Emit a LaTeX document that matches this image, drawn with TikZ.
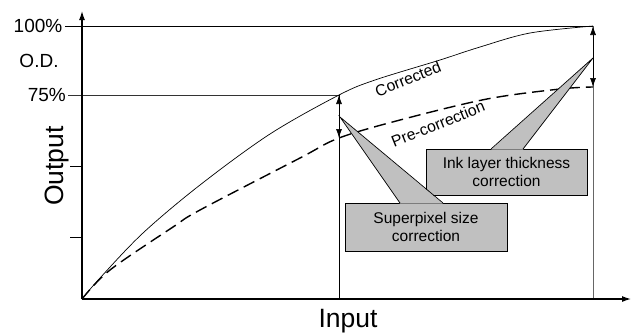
\documentclass[tikz,border=0pt]{standalone}
\usepackage{fontspec}
\setmainfont{Liberation Sans}
\usetikzlibrary{arrows.meta}
\definecolor{calloutgray}{HTML}{C0C0C0}
\tikzset{
  axis/.style={line width=1.2pt},
  guide/.style={line width=0.7pt},
  tip/.style={-{Latex[length=9pt,width=6pt]}},
  dbl/.style={line width=0.7pt,{Latex[length=9pt,width=6pt]}-{Latex[length=9pt,width=6pt]}},
  callout/.style={draw,line width=0.7pt,fill=calloutgray,align=center,font=\fontsize{15.5}{18}\selectfont,inner sep=0pt},
  lbl/.style={font=\fontsize{19}{22}\selectfont,inner sep=0pt},
  big/.style={font=\fontsize{26.5}{30}\selectfont,inner sep=0pt},
  curvelbl/.style={font=\fontsize{15.8}{18}\selectfont,rotate=22,inner sep=0pt}
}
\begin{document}
\begin{tikzpicture}[x=1pt,y=-1pt]
\useasboundingbox (0,0) rectangle (631,335);
% coordinates
\coordinate (O) at (82,299);
\coordinate (Ytop) at (82,11);
\coordinate (Xend) at (631,299);
\coordinate (T100) at (65,26);
\coordinate (E100) at (593,26);
\coordinate (T75) at (68,95);
\coordinate (C75) at (339,95);
\coordinate (P75) at (339,138);
\coordinate (X1) at (339,299);
\coordinate (X2) at (593,299);
\coordinate (PEnd) at (593,87);
\coordinate (T3) at (70,166);
\coordinate (T4) at (70,237);
% guide lines
\draw[guide] (T100) -- (E100);
\draw[guide,black!80] (T75) -- (C75);
\draw[guide] (T3) -- (82,166);
\draw[guide] (T4) -- (82,237);
\draw[guide] (C75) -- (X1);
\draw[guide,black!60] (E100) -- (X2);
% axes
\draw[axis,tip] (O) -- (Ytop);
\draw[axis,tip] (O) -- (Xend);
% curves
\draw[line width=0.7pt] plot[smooth,tension=0.55] coordinates {(82,299) (100,278) (143,233) (200,185) (270,134) (339,95) (375,80) (440,60) (480,47) (530,33) (593,26)};
\draw[line width=1.4pt,dash pattern=on 12pt off 6pt] plot[smooth,tension=0.55] coordinates {(82,299) (110,270) (173,227) (200,210) (300,158) (339,138) (400,120) (487,99) (560,89) (593,87)};
% double arrows
\draw[dbl] (P75) -- (C75);
\draw[dbl] (PEnd) -- (E100);
% labels
\node[lbl,anchor=east] (l100) at (62.5,26) {100\%};
\node[lbl] (lod) at (39,61) {O.D.};
\node[lbl,anchor=east] (l75) at (66,95) {75\%};
\node[big,rotate=90] (ylab) at (57,166) {Output};
\node[big] (xlab) at (348,321) {Input};
\node[curvelbl] (corr) at (408,79) {Corrected};
\node[curvelbl] (prec) at (438,124) {Pre-correction};
% callouts
\node[callout,minimum width=162pt,minimum height=48pt] (sp) at (426,227) {Superpixel size\\correction};
\node[callout,minimum width=161pt,minimum height=46pt] (ink) at (506.5,172) {Ink layer thickness\\correction};
\coordinate (spTip) at (340,117);
\coordinate (inkTip) at (593,58);
\fill[calloutgray] (400,203.7) -- (spTip) -- (443,203.7) -- cycle;
\draw[line width=0.7pt] (400,203) -- (spTip) -- (443,203);
\fill[calloutgray] (491,149.7) -- (inkTip) -- (523,149.7) -- cycle;
\draw[line width=0.7pt] (491,149) -- (inkTip) -- (523,149);
\end{tikzpicture}
\end{document}
